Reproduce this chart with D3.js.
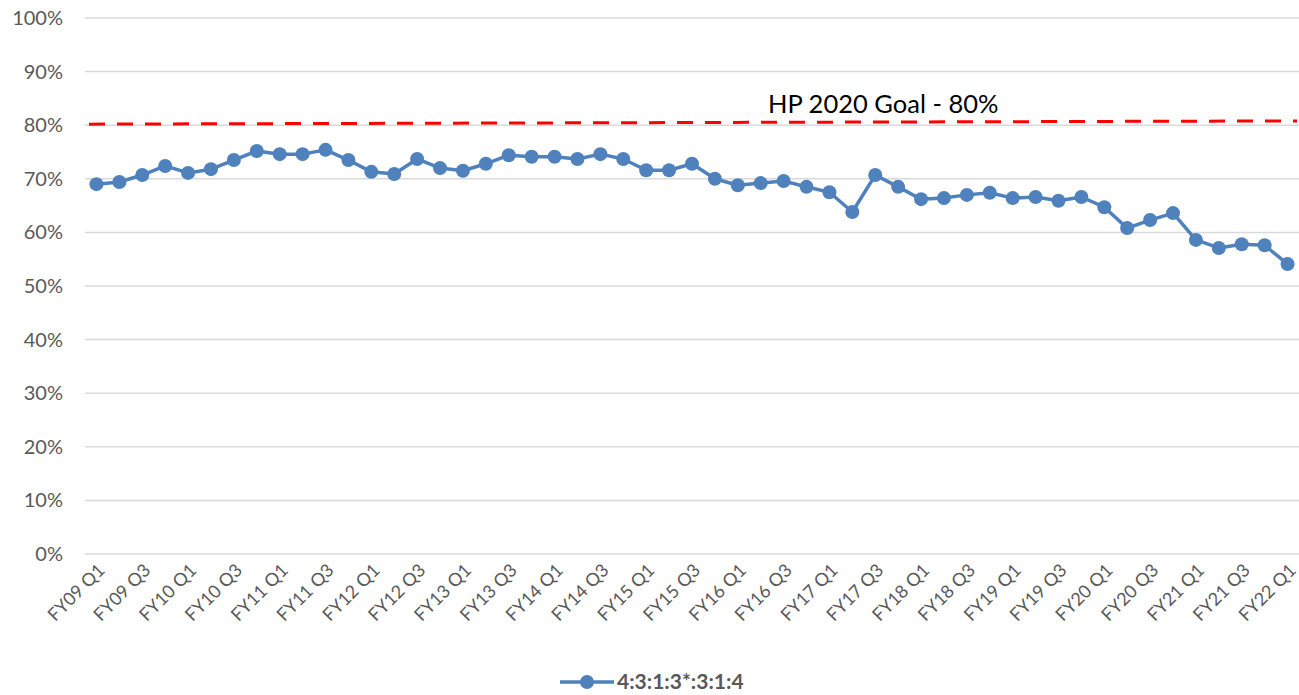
<!DOCTYPE html>
<html>
<head>
<meta charset="utf-8">
<script src="https://cdn.jsdelivr.net/npm/d3@7"></script>
<style>
  body { margin: 0; background: #fff; }
  svg { font-family: Lato, "Open Sans", sans-serif; }
</style>
</head>
<body>
<svg id="chart"></svg>
<script>
var width = 1299,
    height = 695,
    margin = {top: 18, right: 0, bottom: 141, left: 85};

// quarters FY09 Q1 .. FY22 Q1
var years = ["FY09","FY10","FY11","FY12","FY13","FY14","FY15","FY16","FY17","FY18","FY19","FY20","FY21","FY22"];
var quarters = [];
years.forEach(function(y) {
  ["Q1","Q2","Q3","Q4"].forEach(function(q) { quarters.push(y + " " + q); });
});
quarters = quarters.slice(0, 53);

var values = [
  69.0, 69.4, 70.7, 72.4, 71.1, 71.8, 73.5, 75.2,
  74.6, 74.6, 75.4, 73.5, 71.3, 70.9, 73.7, 72.0,
  71.5, 72.8, 74.4, 74.1, 74.1, 73.7, 74.6, 73.7,
  71.6, 71.6, 72.8, 70.0, 68.8, 69.2, 69.6, 68.5,
  67.5, 63.8, 70.7, 68.5, 66.2, 66.4, 67.0, 67.4,
  66.4, 66.6, 65.9, 66.6, 64.7, 60.8, 62.3, 63.6,
  58.6, 57.1, 57.8, 57.6, 54.1
];

var goalValues = [80.2, 80.8];
var yTicks = [0, 10, 20, 30, 40, 50, 60, 70, 80, 90, 100];
var seriesName = "4:3:1:3*:3:1:4";
var goalLabel = "HP 2020 Goal - 80%";

var svg = d3.select("#chart").attr("width", width).attr("height", height);

var x = d3.scaleBand()
  .domain(quarters)
  .range([margin.left, width - margin.right]);

var y = d3.scaleLinear()
  .domain([0, 100])
  .range([height - margin.bottom, margin.top]);

var cx = function(d, i) { return x(quarters[i]) + x.bandwidth() / 2; };

// gridlines
svg.append("g")
  .selectAll("line")
  .data(yTicks)
  .enter().append("line")
  .attr("x1", margin.left)
  .attr("x2", width - margin.right)
  .attr("y1", function(d) { return y(d); })
  .attr("y2", function(d) { return y(d); })
  .attr("stroke", "#d9d9d9")
  .attr("stroke-width", 1.5);

// y labels
svg.append("g")
  .selectAll("text")
  .data(yTicks)
  .enter().append("text")
  .attr("x", 63)
  .attr("y", function(d) { return y(d); })
  .attr("dy", "0.35em")
  .attr("text-anchor", "end")
  .attr("fill", "#595959")
  .style("font-size", "20px")
  .text(function(d) { return d + "%"; });

// x labels (every other quarter)
svg.append("g")
  .selectAll("text")
  .data(quarters.filter(function(q, i) { return i % 2 === 0; }))
  .enter().append("text")
  .attr("transform", function(d) {
    return "translate(" + (x(d) + x.bandwidth() / 2 + 5) + "," + 567 + ") rotate(-45)";
  })
  .attr("text-anchor", "end")
  .attr("dy", "0.35em")
  .attr("fill", "#595959")
  .style("font-size", "18px")
  .text(function(d) { return d; });

// goal line
var gx = d3.scaleLinear().domain([0, goalValues.length - 1]).range([margin.left + 4, width - 2]);
svg.append("path")
  .datum(goalValues)
  .attr("fill", "none")
  .attr("stroke", "#ff0000")
  .attr("stroke-width", 3)
  .attr("stroke-dasharray", "16,12")
  .attr("d", d3.line()
    .x(function(d, i) { return gx(i); })
    .y(function(d) { return y(d); }));

svg.append("text")
  .attr("x", 768)
  .attr("y", 113)
  .attr("fill", "#000")
  .style("font-size", "25.5px")
  .text(goalLabel);

// series
var blue = "#4f81bd";
svg.append("path")
  .datum(values)
  .attr("fill", "none")
  .attr("stroke", blue)
  .attr("stroke-width", 3.5)
  .attr("stroke-linejoin", "round")
  .attr("d", d3.line()
    .x(cx)
    .y(function(d) { return y(d); }));

svg.append("g")
  .selectAll("circle")
  .data(values)
  .enter().append("circle")
  .attr("cx", cx)
  .attr("cy", function(d) { return y(d); })
  .attr("r", 7)
  .attr("fill", blue);

// legend
var legend = svg.append("g").attr("transform", "translate(560,682)");
legend.append("line")
  .attr("x1", 0).attr("x2", 54)
  .attr("stroke", blue).attr("stroke-width", 3.5);
legend.append("circle")
  .attr("cx", 27).attr("r", 7).attr("fill", blue);
legend.append("text")
  .attr("x", 57)
  .attr("dy", "0.35em")
  .attr("fill", "#595959")
  .style("font-size", "21px")
  .style("font-weight", "bold")
  .text(seriesName);
</script>
</body>
</html>
